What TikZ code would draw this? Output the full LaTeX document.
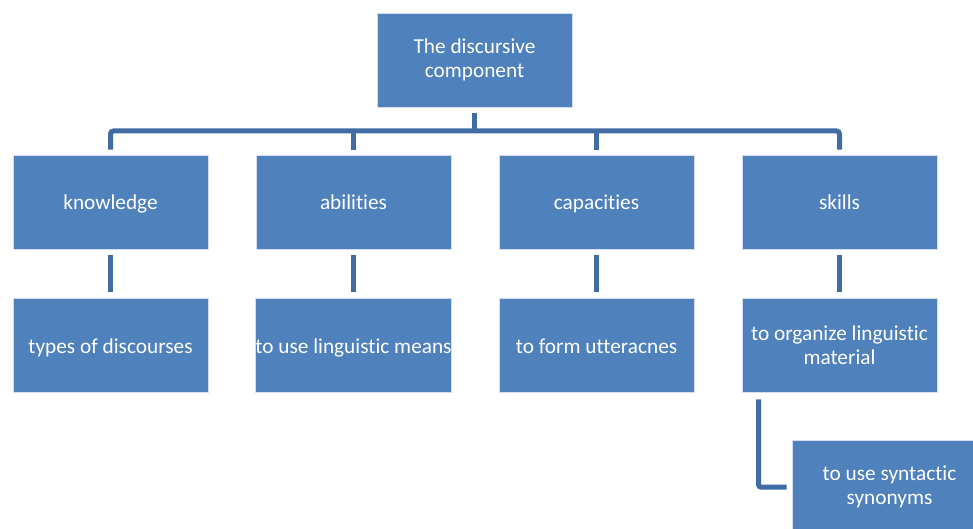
\documentclass[tikz,border=0pt]{standalone}
\usepackage{fontspec}
\setmainfont{Carlito}[Ligatures=NoCommon]
\usetikzlibrary{calc}
\definecolor{boxblue}{HTML}{4F81BD}
\definecolor{linkblue}{HTML}{416CA3}
\begin{document}
\begin{tikzpicture}[x=1pt,y=-1pt,
  box/.style={draw=white!75!boxblue, line width=0.8pt, fill=boxblue,
    minimum width=195pt, minimum height=94pt, inner sep=0pt,
    text=white, align=center,
    font=\fontsize{21.3pt}{23.5pt}\selectfont},
  oneline/.style={box, text height=18pt, text depth=2pt},
  conn/.style={draw=linkblue, line width=5pt}]
\useasboundingbox (0,0) rectangle (973,529);
\clip (0,0) rectangle (973,529);

% top of the hierarchy
\node[box] (top) at (474.5,60) {The discursive\\component};

% first level
\node[oneline] (k) at (110.5,202) {knowledge};
\node[oneline] (a) at (353.5,202) {abilities};
\node[oneline] (c) at (596.5,202) {capacities};
\node[oneline] (s) at (839.5,202) {skills};

% second level
\node[oneline] (k2) at (110.5,345) {types of discourses};
\node[oneline] (a2) at (353.5,345) {to use linguistic means};
\node[oneline] (c2) at (596.5,345) {to form utteracnes};
\node[box] (s2) at (839.5,345) {to organize linguistic\\material};

% third level
\node[box] (syn) at (889.5,487) {to use syntactic\\synonyms};

% branching bar
\coordinate (bar) at (0,131);
\draw[conn] ([yshift=-6pt]top.south) -- (top.south |- bar);
\draw[conn, rounded corners=3pt] ([yshift=5pt]k.north) |- (bar -| s.north) -- ([yshift=5pt]s.north);
\draw[conn] ([yshift=5pt]a.north) -- (a.north |- bar);
\draw[conn] ([yshift=5pt]c.north) -- (c.north |- bar);

% vertical links between levels
\draw[conn] ([yshift=-6pt]k.south) -- ([yshift=6pt]k2.north);
\draw[conn] ([yshift=-6pt]a.south) -- ([yshift=6pt]a2.north);
\draw[conn] ([yshift=-6pt]c.south) -- ([yshift=6pt]c2.north);
\draw[conn] ([yshift=-6pt]s.south) -- ([yshift=6pt]s2.north);

% elbow to the last box
\draw[conn, rounded corners=2pt] ([xshift=17pt,yshift=-7pt]s2.south west) |- ([xshift=-5pt]syn.west);
\end{tikzpicture}
\end{document}
